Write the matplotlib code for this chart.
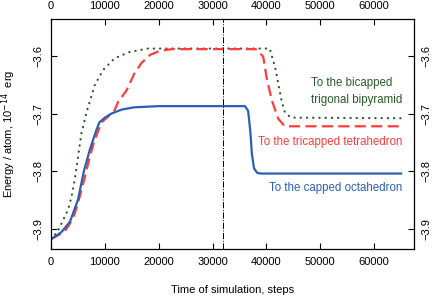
import matplotlib
matplotlib.use("Agg")
import matplotlib.pyplot as plt

plt.rcParams['font.family'] = ['Liberation Sans', 'DejaVu Sans']

# capped octahedron (blue, solid)
oct_steps = [0, 1900, 3500, 5000, 6100, 7200, 8400, 9000, 10000, 11200, 13100,
             15500, 20000, 36000, 36600, 37000, 37300, 37700, 38300, 39000, 65000]
oct_energy = [-3.918, -3.906, -3.888, -3.850, -3.800, -3.763, -3.729, -3.715,
              -3.707, -3.700, -3.693, -3.689, -3.687, -3.687, -3.695, -3.730,
              -3.770, -3.795, -3.803, -3.804, -3.804]

# tricapped tetrahedron (red, dashed)
tet_steps = [0, 2500, 3500, 4400, 5300, 6300, 7200, 8100, 9400, 10600, 11800,
             12500, 14000, 15500, 16800, 18400, 20200, 22400, 38000, 39400,
             40000, 41000, 42200, 43400, 65000]
tet_energy = [-3.918, -3.905, -3.891, -3.874, -3.845, -3.810, -3.775, -3.746,
              -3.715, -3.705, -3.694, -3.679, -3.660, -3.630, -3.612, -3.598,
              -3.591, -3.588, -3.588, -3.601, -3.636, -3.677, -3.709, -3.722,
              -3.722]

# bicapped trigonal bipyramid (green, dotted)
bip_steps = [0, 1200, 2230, 3160, 3790, 4400, 5020, 5650, 6260, 6580, 8140,
             9700, 11800, 14600, 18000, 40600, 41600, 42200, 42800, 43400,
             44400, 45300, 65000]
bip_energy = [-3.918, -3.905, -3.885, -3.867, -3.845, -3.815, -3.775, -3.734,
              -3.711, -3.698, -3.650, -3.624, -3.604, -3.593, -3.587, -3.587,
              -3.619, -3.648, -3.677, -3.697, -3.706, -3.707, -3.708]

switch_step = 32000
x_ticks = [0, 10000, 20000, 30000, 40000, 50000, 60000]
y_ticks = [-3.9, -3.8, -3.7, -3.6]

blue = '#2b5fb4'
red = '#ff3b3b'
green = '#2a5a2a'

fig = plt.figure(figsize=(4.37, 3.01), dpi=100)
ax = fig.add_axes([0.1167, 0.1728, 0.8307, 0.7641])

ax.plot(bip_steps, bip_energy, color=green, lw=1.6, linestyle=(0, (0.1, 2.7)),
        dash_capstyle='round')
ax.plot(tet_steps, tet_energy, color=red, lw=1.6, linestyle=(0, (5, 2.4)))
ax.plot(oct_steps, oct_energy, color=blue, lw=1.6)
ax.axvline(switch_step, color='black', lw=0.7, linestyle='-.')

ax.set_xlim(0, 67400)
ax.set_ylim(-3.935, -3.5357)
ax.set_xticks(x_ticks)
ax.set_yticks(y_ticks)
ax.set_xticklabels([str(t) for t in x_ticks])
ax.set_yticklabels(['\u22123.9', '\u22123.8', '\u22123.7', '\u22123.6'])

ax.tick_params(direction='in', length=4, width=0.8, labelsize=8, pad=5.5,
               top=True, right=True, labeltop=True, labelright=True)
ax.tick_params(axis='y', labelrotation=90)
for t in ax.yaxis.get_major_ticks():
    t.label2.set_va('center')
    t.label1.set_va('center')

for s in ax.spines.values():
    s.set_linewidth(0.9)

ax.set_xlabel('Time of simulation, steps', fontsize=8)
ax.xaxis.set_label_coords(0.5, -0.158)
ax.set_ylabel(r'Energy / atom, 10$^{-14}$  erg', fontsize=8)
ax.yaxis.set_label_coords(-0.09, 0.5)

ax.text(65200, -3.6617, 'To the bicapped\ntrigonal bipyramid', color=green,
        fontsize=8.3, ha='right', va='center', multialignment='left',
        linespacing=1.5)
ax.text(65200, -3.749, 'To the tricapped tetrahedron', color=red,
        fontsize=8.3, ha='right', va='center')
ax.text(65200, -3.8284, 'To the capped octahedron', color=blue,
        fontsize=8.3, ha='right', va='center')

fig.savefig('out.png', dpi=100)
